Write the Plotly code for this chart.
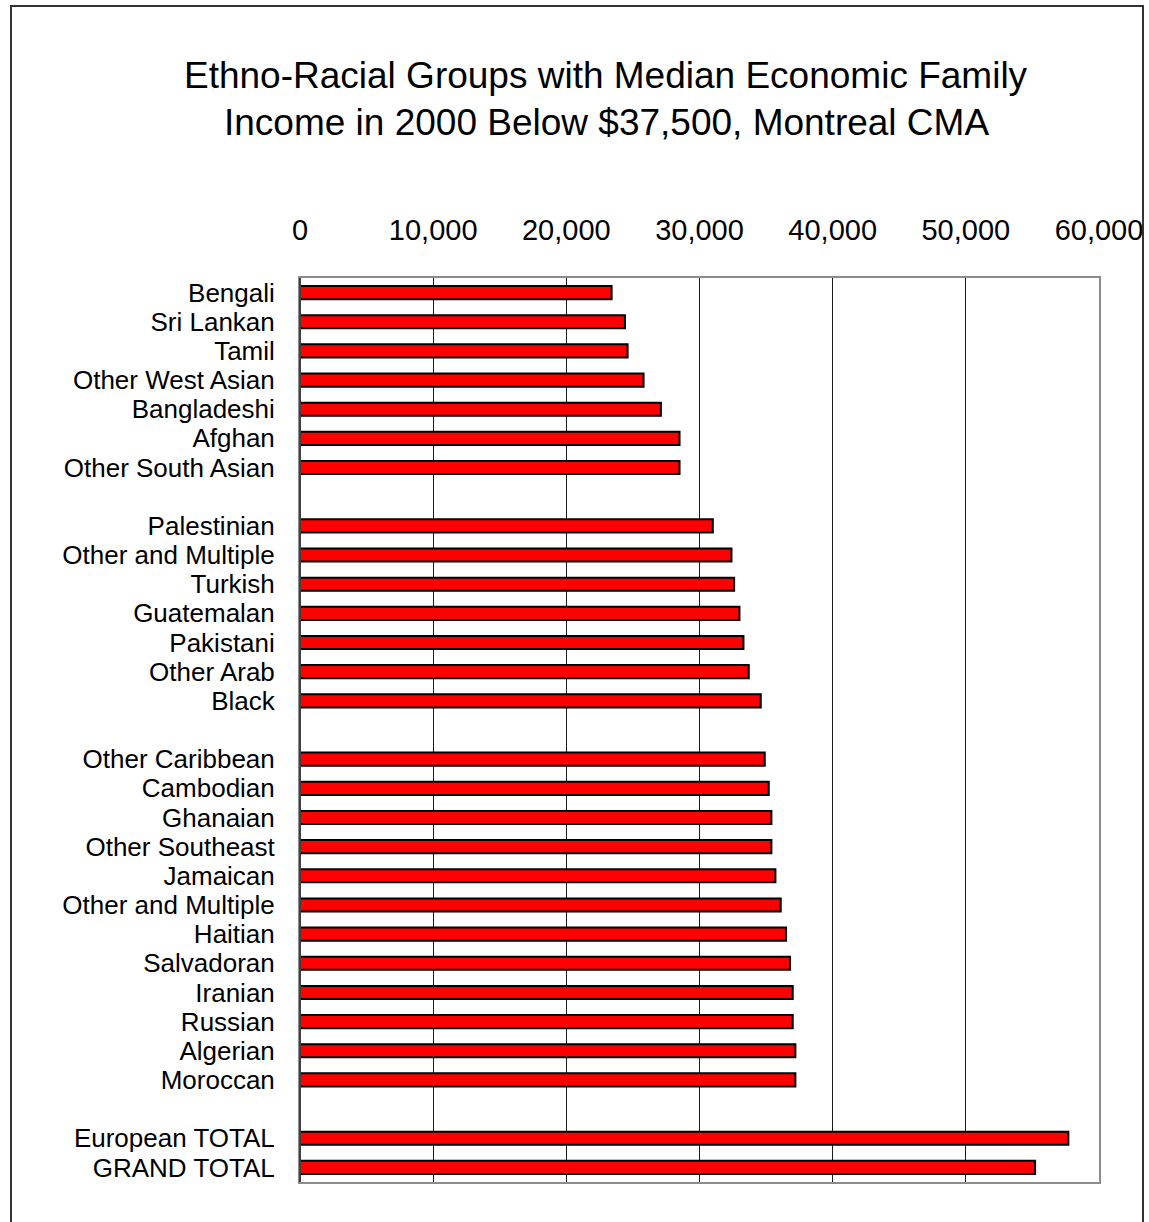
import plotly.graph_objects as go

# Median economic family income (2000), grouped as shown on the chart
labels_g1 = ["Bengali", "Sri Lankan", "Tamil", "Other West Asian",
             "Bangladeshi", "Afghan", "Other South Asian"]
income_g1 = [23400, 24400, 24600, 25800, 27100, 28500, 28500]

labels_g2 = ["Palestinian", "Other and Multiple", "Turkish", "Guatemalan",
             "Pakistani", "Other Arab", "Black"]
income_g2 = [31000, 32400, 32600, 33000, 33300, 33700, 34600]

labels_g3 = ["Other Caribbean", "Cambodian", "Ghanaian", "Other Southeast",
             "Jamaican", "Other and Multiple", "Haitian", "Salvadoran",
             "Iranian", "Russian", "Algerian", "Moroccan"]
income_g3 = [34900, 35200, 35400, 35400, 35700, 36100, 36500, 36800,
             37000, 37000, 37200, 37200]

labels_tot = ["European TOTAL", "GRAND TOTAL"]
income_tot = [57700, 55200]

x_ticks = [0, 10000, 20000, 30000, 40000, 50000, 60000]
x_tick_text = ["0", "10,000", "20,000", "30,000", "40,000", "50,000", "60,000"]

title_lines = ["Ethno-Racial Groups with Median Economic Family",
               "Income in 2000 Below $37,500, Montreal CMA"]

# Lay the groups out on a row index, leaving one empty row between groups
groups = [(labels_g1, income_g1), (labels_g2, income_g2),
          (labels_g3, income_g3), (labels_tot, income_tot)]
rows, names, values = [], [], []
row = 0
for gi, (labs, vals) in enumerate(groups):
    if gi > 0:
        row += 1
    for lab, val in zip(labs, vals):
        rows.append(row)
        names.append(lab)
        values.append(val)
        row += 1
n_rows = row

FONT = "Liberation Sans, Arial, sans-serif"

fig = go.Figure(go.Bar(
    x=values, y=rows, orientation="h", width=0.45,
    marker=dict(color="#FF0000", line=dict(color="#000000", width=2)),
    hoverinfo="x+text", hovertext=names,
))

W, H = 1149, 1222
L, R, T, B = 300, 50, 278, 40
pw, ph = W - L - R, H - T - B

def px_x(x):
    return (x - L) / pw

def px_y(y):
    return 1 - (y - T) / ph

fig.update_layout(
    width=W, height=H,
    margin=dict(l=L, r=R, t=T, b=B, autoexpand=False),
    paper_bgcolor="white", plot_bgcolor="white",
    showlegend=False,
    font=dict(family=FONT, color="black"),
    bargap=0.55,
    xaxis=dict(
        side="top", range=[0, 60000], tickvals=x_ticks, ticktext=x_tick_text,
        showgrid=True, gridcolor="#1a1a1a", gridwidth=1,
        showline=True, linecolor="#8c8c8c", linewidth=2, mirror=True,
        ticks="", ticklabelstandoff=24, zeroline=False, automargin=False,
        tickfont=dict(size=29, family=FONT, color="black"),
    ),
    yaxis=dict(
        range=[n_rows - 0.5, -0.5], tickvals=rows, ticktext=names,
        showgrid=False, zeroline=False, automargin=False,
        showline=True, linecolor="#8c8c8c", linewidth=2, mirror=True,
        ticks="", ticklabelstandoff=18,
        tickfont=dict(size=26, family=FONT, color="black"),
    ),
    annotations=[
        dict(text=title_lines[0], xref="paper", yref="paper",
             x=px_x(606), y=px_y(75), xanchor="center", yanchor="middle",
             showarrow=False, font=dict(size=37, family=FONT, color="black")),
        dict(text=title_lines[1], xref="paper", yref="paper",
             x=px_x(606), y=px_y(122), xanchor="center", yanchor="middle",
             showarrow=False, font=dict(size=37, family=FONT, color="black")),
    ],
    shapes=[
        # outer chart frame
        dict(type="rect", xref="paper", yref="paper",
             x0=px_x(11), x1=px_x(1143), y0=px_y(1240), y1=px_y(6),
             line=dict(color="#333333", width=2), fillcolor="rgba(0,0,0,0)",
             layer="above"),
        # darker left axis line
        dict(type="line", xref="paper", yref="paper",
             x0=0, x1=0, y0=0, y1=1,
             line=dict(color="#404040", width=2), layer="above"),
    ],
)

fig.write_html("out.html")
